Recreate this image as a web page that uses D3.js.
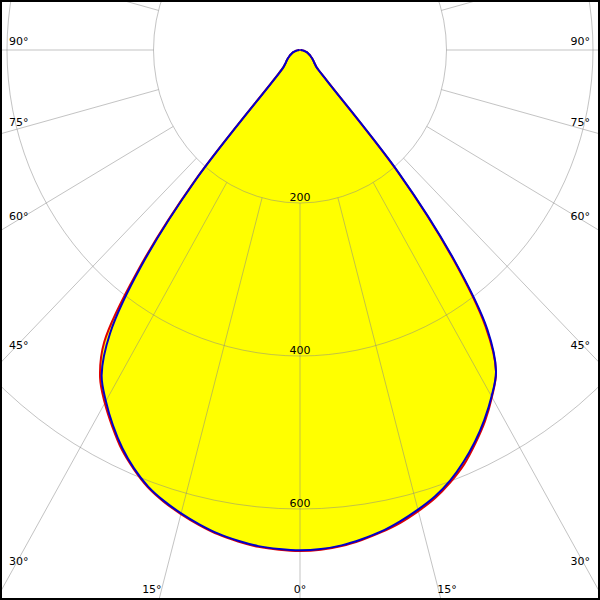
<!DOCTYPE html>
<html><head><meta charset="utf-8">
<script src="https://cdn.jsdelivr.net/npm/d3@7"></script>
<style>html,body{margin:0;padding:0;background:#fff}svg{display:block}</style>
</head><body><svg id="c" width="600" height="600"></svg>
<script>
// gamma angles (degrees from nadir)
const angles = [0,2.5,5,7.5,10,12.5,15,17.5,20,22.5,25,27.5,30,32.5,35,37.5,40,42.5,45,47.5,50,52.5,55,57.5,60,62.5,65,67.5,70,72.5,75,77.5,80,82.5,85,87.5,90];
// blue plane, left half / right half (cd)
const blueLeft  = [654,653,651,647,642,635,627,618,607,592,574,553,530,504,452,356,221,52,32,28,25,23,21,19,17,15.5,14,12.5,11,9.5,8,6.5,5,4,2.5,1.5,0.5];
const blueRight = [654,653,650,645,639,631,622,612,599,583,565,545,523,498,446,345,210,55,32,28,25,23,21,19,17,15.5,14,12.5,11,9.5,8,6.5,5,4,2.5,1.5,0.5];
// red plane, left half / right half (cd)
const redLeft   = [655,654,652,648,643,636,628,619,608,593,576,555,533,508,466,364,225,54,33,28,25,23,21,19,17,15.5,14,12.5,11,9.5,8,6.5,5,4,2.5,1.5,0.5];
const redRight  = [655,654,651,646,640,633,624,614,601,586,567,547,524,498,442,340,206,54,32,28,25,23,21,19,17,15.5,14,12.5,11,9.5,8,6.5,5,4,2.5,1.5,0.5];
// grid
const ringValues = [200,400,600];
const ringLabels = ["200","400","600"];
const spokeAngles = [0,15,30,45,60,75,90,105,120,135,150,165,180,195,210,225,240,255,270,285,300,315,330,345];
const labelAngles = [90,75,60,45,30,15,0];

const W = 600, H = 600, cx = 300, cy = 50;
const rY = d3.scaleLinear().domain([0,200]).range([0,153]);
const rX = d3.scaleLinear().domain([0,200]).range([0,146.5]);
const rad = d => d*Math.PI/180;
function pt(deg, I, side){ const a = rad(deg); return [cx + side*rX(I)*Math.sin(a), cy + rY(I)*Math.cos(a)]; }

const svg = d3.select("#c");
svg.append("rect").attr("width",W).attr("height",H).attr("fill","#fff");

function curvePts(left, right){
  const pts = [];
  for (let i = angles.length-1; i >= 0; i--) pts.push(pt(angles[i], left[i], -1));
  for (let i = 1; i < angles.length; i++) pts.push(pt(angles[i], right[i], 1));
  return pts;
}
const line = d3.line().curve(d3.curveCatmullRom.alpha(0.5));
const redPts = curvePts(redLeft, redRight);
const bluePts = curvePts(blueLeft, blueRight);

// fills
svg.append("path").attr("d", line(redPts)+"Z").attr("fill","#ffff00");
svg.append("path").attr("d", line(bluePts)+"Z").attr("fill","#ffff00");

// grid
const g = svg.append("g").attr("stroke","#888").attr("stroke-opacity",0.5).attr("fill","none").attr("stroke-width",1);
ringValues.forEach(v => {
  g.append("ellipse").attr("cx",cx).attr("cy",cy).attr("rx",rX(v)).attr("ry",rY(v));
});
spokeAngles.forEach(a => {
  const p0 = pt(a, 200, 1), p1 = pt(a, 1200, 1);
  g.append("line").attr("x1",p0[0]).attr("y1",p0[1]).attr("x2",p1[0]).attr("y2",p1[1]);
});

// curves
svg.append("path").attr("d", line(redPts)).attr("fill","none").attr("stroke","#e00000").attr("stroke-width",2).attr("stroke-linejoin","round");
svg.append("path").attr("d", line(bluePts)).attr("fill","none").attr("stroke","#0000cc").attr("stroke-width",2).attr("stroke-linejoin","round");

// labels
const font = "'DejaVu Sans', Verdana, sans-serif";
const T = svg.append("g").attr("font-family",font).attr("font-size",11).attr("fill","#000");
ringValues.forEach((v,i) => {
  T.append("text").attr("x",cx).attr("y",cy + rY(v) - 2).attr("text-anchor","middle").text(ringLabels[i]);
});
labelAngles.forEach(a => {
  const s = Math.sin(rad(a)), c = Math.cos(rad(a));
  const kx = rX(1)*s, ky = rY(1)*c;
  const tx = kx > 0 ? cx / kx : Infinity;
  const ty = ky > 0 ? (H - cy) / ky : Infinity;
  const txt = a + "°";
  if (ty < tx) {
    const xb = rX(ty)*s;
    if (a === 0) {
      T.append("text").attr("x",cx).attr("y",593).attr("text-anchor","middle").text(txt);
    } else {
      T.append("text").attr("x",cx - xb - 7).attr("y",593).attr("text-anchor","middle").text(txt);
      T.append("text").attr("x",cx + xb + 6).attr("y",593).attr("text-anchor","middle").text(txt);
    }
  } else {
    const I = (cx - 9)/kx;
    const y = Math.min(cy + rY(I)*c - 5, 565);
    T.append("text").attr("x",9).attr("y",y).attr("text-anchor","start").text(txt);
    T.append("text").attr("x",590).attr("y",y).attr("text-anchor","end").text(txt);
  }
});

// frame
svg.append("rect").attr("x",1).attr("y",1).attr("width",W-2).attr("height",H-2).attr("fill","none").attr("stroke","#000").attr("stroke-width",2);
</script></body></html>
